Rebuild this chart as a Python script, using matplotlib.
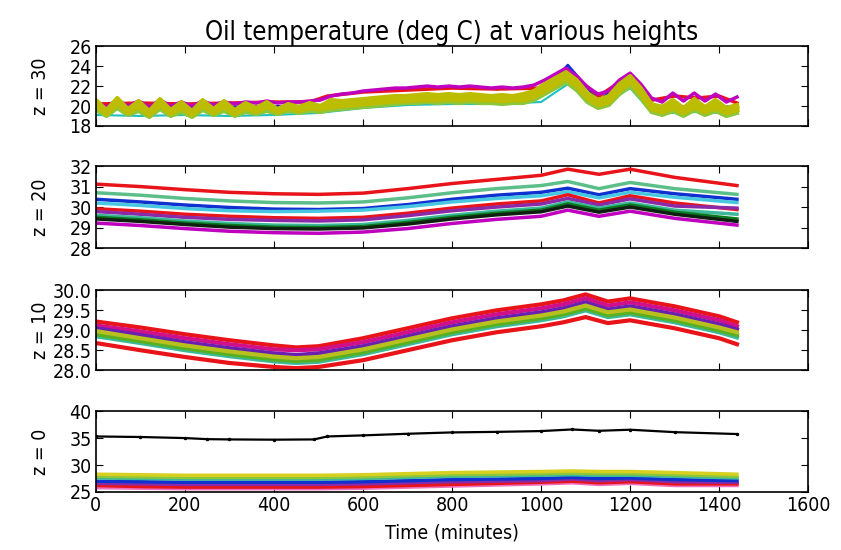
import numpy as np
import matplotlib
matplotlib.use("Agg")
import matplotlib.pyplot as plt
from matplotlib import font_manager as fm

# ---------------- data ----------------
# z = 30 (zig-zag readings every 24 minutes)
t30 = list(range(0, 1441, 24))
z30_yellow = [20.6, 19.6, 20.8, 19.7, 20.5, 19.5, 20.7, 19.6, 20.4, 19.5, 20.6, 19.7, 20.5, 19.6, 20.3, 19.8,
              20.4, 19.7, 20.2, 19.9, 20.3,
              20.0, 20.6, 20.5, 20.6, 20.7, 20.8, 20.9, 21.0, 21.0, 21.1, 21.2, 21.1, 21.2, 21.1, 21.2, 21.1,
              21.0, 21.1, 21.0, 21.2, 21.5, 22.2, 22.8, 23.4, 22.6, 21.3, 20.6, 21.0, 22.2, 23.0, 21.8, 20.2,
              19.9, 20.6, 19.8, 20.7, 19.9, 20.6, 19.8, 20.1]
z30_yellow3 = [20.3, 19.4, 20.5, 19.5, 20.2, 19.3, 20.4, 19.4, 20.1, 19.3, 20.3, 19.5, 20.2, 19.4, 20.0, 19.6,
               20.1, 19.5, 20.0, 19.7, 20.0,
               19.9, 20.3, 20.3, 20.4, 20.5, 20.6, 20.7, 20.8, 20.8, 20.9, 20.9, 20.9, 21.0, 20.9, 21.0, 20.9,
               20.8, 20.8, 20.8, 20.9, 21.2, 21.9, 22.5, 23.1, 22.3, 21.0, 20.3, 20.7, 21.9, 22.7, 21.5, 19.9,
               19.7, 20.2, 19.6, 20.3, 19.7, 20.2, 19.6, 19.9]
z30_yellow2 = [20.0, 19.2, 20.2, 19.3, 19.9, 19.1, 20.1, 19.2, 19.8, 19.1, 20.0, 19.3, 19.9, 19.2, 19.8, 19.4,
               19.9, 19.4, 19.8, 19.5, 19.8,
               19.7, 19.9, 20.0, 20.1, 20.2, 20.3, 20.4, 20.5, 20.5, 20.6, 20.6, 20.6, 20.7, 20.6, 20.7, 20.6,
               20.6, 20.5, 20.6, 20.6, 20.9, 21.5, 22.1, 22.8, 22.0, 20.8, 20.1, 20.4, 21.5, 22.4, 21.2, 19.7,
               19.4, 19.8, 19.3, 19.9, 19.4, 19.8, 19.3, 19.6]
z30_green = [19.6, 19.0, 19.8, 19.1, 19.5, 18.9, 19.7, 19.0, 19.4, 18.9, 19.6, 19.1, 19.5, 19.0, 19.4, 19.2,
             19.5, 19.2, 19.5, 19.3, 19.5,
             19.4, 19.6, 19.7, 19.8, 19.9, 20.0, 20.1, 20.2, 20.3, 20.3, 20.4, 20.3, 20.4, 20.3, 20.4, 20.3,
             20.3, 20.2, 20.3, 20.3, 20.6, 21.2, 21.8, 22.4, 21.6, 20.4, 19.8, 20.1, 21.2, 22.0, 20.8, 19.4,
             19.1, 19.5, 19.0, 19.6, 19.1, 19.5, 19.0, 19.3]
z30_magenta = [20.4, 19.9, 20.6, 20.0, 20.5, 19.9, 20.6, 20.0, 20.4, 20.0, 20.5, 20.1, 20.4, 20.2, 20.4, 20.3,
               20.5, 20.3, 20.4, 20.4, 20.5,
               20.6, 21.0, 21.2, 21.3, 21.5, 21.6, 21.7, 21.8, 21.8, 21.9, 22.0, 21.9, 22.0, 21.9, 22.0, 21.9,
               21.8, 21.9, 21.8, 21.9, 22.1, 22.6, 23.2, 23.8, 23.0, 21.9, 21.2, 21.5, 22.6, 23.3, 22.2, 20.8,
               20.4, 21.3, 20.5, 21.3, 20.5, 21.2, 20.4, 20.9]
t30_red = [0, 100, 200, 300, 400, 480, 520, 600, 700, 800, 900, 1000, 1060, 1130, 1200, 1250, 1300, 1350, 1400, 1440]
z30_red = [20.2, 20.3, 20.2, 20.3, 20.4, 20.4, 21.0, 21.4, 21.6, 21.8, 21.7, 21.8, 23.5, 21.0, 23.1, 20.6, 21.0,
           20.8, 21.0, 20.3]
t30_blue = [0, 500, 1000, 1060, 1130, 1200, 1250, 1440]
z30_blue = [19.8, 20.0, 21.0, 24.1, 20.5, 23.2, 20.0, 19.9]
t30_cyan = [0, 100, 200, 300, 400, 500, 600, 700, 800, 900, 1000, 1060, 1130, 1200, 1250, 1300, 1350, 1400, 1440]
z30_cyan = [19.1, 19.0, 19.1, 19.0, 19.1, 19.3, 19.8, 20.1, 20.2, 20.2, 20.4, 22.2, 19.8, 21.8, 19.3, 19.3, 19.4,
            19.3, 19.4]

# z = 20
t20 = [0, 100, 200, 300, 400, 500, 600, 700, 800, 900, 1000, 1060, 1130, 1200, 1300, 1440]
z20_red1 = [31.12, 31.0, 30.85, 30.72, 30.65, 30.62, 30.68, 30.9, 31.15, 31.35, 31.55, 31.85, 31.6, 31.85, 31.45, 31.05]
z20_green2 = [30.7, 30.58, 30.42, 30.3, 30.22, 30.2, 30.25, 30.45, 30.7, 30.9, 31.05, 31.25, 30.9, 31.2, 30.9, 30.62]
z20_blue = [30.38, 30.25, 30.1, 29.98, 29.9, 29.88, 29.93, 30.12, 30.38, 30.58, 30.72, 30.92, 30.6, 30.9, 30.65, 30.38]
z20_cyan = [30.2, 30.08, 29.93, 29.82, 29.78, 29.8, 29.85, 30.02, 30.25, 30.42, 30.55, 30.75, 30.45, 30.72, 30.48, 30.22]
z20_red2 = [29.92, 29.8, 29.65, 29.55, 29.48, 29.45, 29.5, 29.7, 29.95, 30.15, 30.3, 30.6, 30.2, 30.55, 30.2, 29.88]
z20_purple = [29.78, 29.65, 29.5, 29.4, 29.35, 29.32, 29.38, 29.58, 29.82, 30.0, 30.15, 30.42, 30.1, 30.4, 30.05, 29.95]
z20_teal = [29.6, 29.48, 29.32, 29.2, 29.12, 29.1, 29.15, 29.35, 29.6, 29.8, 29.95, 30.25, 29.95, 30.2, 29.85, 29.65]
z20_dkgreen = [29.5, 29.38, 29.22, 29.1, 29.02, 29.0, 29.05, 29.25, 29.5, 29.7, 29.85, 30.15, 29.85, 30.1, 29.75, 29.42]
z20_black = [29.42, 29.3, 29.15, 29.02, 28.95, 28.93, 28.98, 29.17, 29.42, 29.62, 29.77, 30.05, 29.75, 30.0, 29.65, 29.3]
z20_magenta = [29.22, 29.1, 28.95, 28.82, 28.75, 28.72, 28.78, 28.95, 29.2, 29.4, 29.55, 29.85, 29.55, 29.8, 29.45, 29.12]

# z = 10
t10 = [0, 100, 200, 300, 400, 450, 500, 600, 700, 800, 900, 1000, 1050, 1100, 1150, 1200, 1250, 1300, 1400, 1440]
z10_red_top = [29.22, 29.07, 28.9, 28.75, 28.62, 28.57, 28.6, 28.8, 29.05, 29.3, 29.5, 29.65, 29.75, 29.9, 29.72, 29.8, 29.7, 29.6, 29.35, 29.2]
z10_magenta = [29.12, 28.97, 28.8, 28.65, 28.52, 28.5, 28.52, 28.7, 28.95, 29.2, 29.4, 29.55, 29.65, 29.8, 29.62, 29.7, 29.6, 29.5, 29.25, 29.1]
z10_blue = [29.05, 28.88, 28.7, 28.55, 28.42, 28.38, 28.42, 28.6, 28.85, 29.1, 29.3, 29.45, 29.55, 29.7, 29.52, 29.6, 29.5, 29.4, 29.15, 29.02]
z10_yellow = [28.98, 28.8, 28.62, 28.47, 28.34, 28.3, 28.33, 28.52, 28.77, 29.02, 29.22, 29.37, 29.47, 29.62, 29.45, 29.52, 29.42, 29.32, 29.07, 28.95]
z10_green = [28.9, 28.73, 28.55, 28.4, 28.27, 28.23, 28.26, 28.45, 28.7, 28.95, 29.15, 29.3, 29.4, 29.55, 29.38, 29.45, 29.35, 29.25, 29.0, 28.88]
z10_teal = [28.85, 28.68, 28.5, 28.35, 28.22, 28.18, 28.21, 28.4, 28.65, 28.9, 29.1, 29.25, 29.35, 29.5, 29.33, 29.4, 29.3, 29.2, 28.95, 28.82]
z10_red_bot = [28.68, 28.5, 28.33, 28.18, 28.08, 28.05, 28.08, 28.25, 28.5, 28.75, 28.95, 29.1, 29.2, 29.33, 29.18, 29.25, 29.15, 29.05, 28.8, 28.65]

# z = 0
t0_black = [0, 100, 200, 250, 300, 400, 490, 520, 600, 700, 800, 900, 1000, 1070, 1130, 1200, 1300, 1440]
z0_black = [35.3, 35.2, 35.0, 34.8, 34.75, 34.7, 34.75, 35.3, 35.5, 35.8, 36.05, 36.15, 36.3, 36.6, 36.35, 36.55, 36.1, 35.75]
t0 = [0, 100, 200, 300, 400, 500, 600, 700, 800, 900, 1000, 1070, 1130, 1200, 1300, 1440]
z0_yellow = [28.3, 28.2, 28.1, 28.1, 28.1, 28.1, 28.2, 28.4, 28.6, 28.7, 28.8, 28.9, 28.8, 28.8, 28.6, 28.3]
z0_green = [27.9, 27.8, 27.7, 27.7, 27.7, 27.7, 27.8, 28.0, 28.2, 28.3, 28.4, 28.5, 28.4, 28.4, 28.2, 27.9]
z0_teal = [27.6, 27.5, 27.4, 27.4, 27.4, 27.4, 27.5, 27.7, 27.9, 28.0, 28.1, 28.2, 28.1, 28.1, 27.9, 27.6]
z0_blue = [27.0, 26.9, 26.8, 26.8, 26.8, 26.8, 26.9, 27.1, 27.3, 27.4, 27.5, 27.7, 27.5, 27.6, 27.3, 27.1]
z0_purple = [26.6, 26.5, 26.4, 26.4, 26.4, 26.4, 26.5, 26.7, 26.9, 27.0, 27.1, 27.4, 27.1, 27.3, 26.9, 26.8]
z0_red = [26.2, 26.0, 25.9, 25.9, 25.9, 25.9, 26.0, 26.2, 26.4, 26.6, 26.8, 27.0, 26.7, 26.9, 26.5, 26.5]
z0_pink = [25.8, 25.7, 25.6, 25.6, 25.6, 25.6, 25.7, 25.9, 26.1, 26.3, 26.5, 26.7, 26.4, 26.6, 26.2, 26.2]

panel_labels = ["z = 30", "z = 20", "z = 10", "z = 0"]
y_ticks = [[18, 20, 22, 24, 26], [28, 29, 30, 31, 32], [28.0, 28.5, 29.0, 29.5, 30.0], [25, 30, 35, 40]]
y_ticklabels = [["18", "20", "22", "24", "26"], ["28", "29", "30", "31", "32"],
                ["28.0", "28.5", "29.0", "29.5", "30.0"], ["25", "30", "35", "40"]]
x_ticks = [0, 200, 400, 600, 800, 1000, 1200, 1400, 1600]

# colours
C_R = "#e8141a"
C_M = "#bf00bf"
C_B = "#1030d0"
C_C = "#20c0c0"
C_Y = "#bcbd00"
C_LG = "#8cc63a"
C_G = "#0b7a1e"
C_P = "#8a2aa8"
C_T = "#3cb89a"

plt.rcParams['font.family'] = ['DejaVu Sans']
fp_cond = fm.FontProperties(family='DejaVu Sans', stretch='condensed')
cond_file = fm.findfont(fp_cond)
has_cond = 'Condensed' in cond_file
TS = 14 if has_cond else 12
TITLE = 18.5 if has_cond else 16
STRETCH = 'condensed' if has_cond else 'normal'

fig = plt.figure(figsize=(8.41, 5.5), dpi=100)
L, W = 0.114, 0.847
rects = [(L, 0.771, W, 0.145), (L, 0.549, W, 0.149), (L, 0.327, W, 0.145), (L, 0.1055, W, 0.147)]
axes = [fig.add_axes(r) for r in rects]

ax = axes[0]
ax.plot(t30_blue, z30_blue, color=C_B, lw=2)
ax.plot(t30_cyan, z30_cyan, color=C_C, lw=1.5)
ax.plot(t30_red, z30_red, color=C_R, lw=2.5)
ax.plot(t30, z30_magenta, color=C_M, lw=2.5)
ax.plot(t30, z30_green, color=C_LG, lw=3)
ax.plot(t30, z30_yellow2, color=C_Y, lw=3.5)
ax.plot(t30, z30_yellow3, color=C_Y, lw=3.5)
ax.plot(t30, z30_yellow, color=C_Y, lw=3)

ax = axes[1]
for vals, col in [(z20_red1, C_R), (z20_green2, "#5cbf8a"), (z20_blue, C_B), (z20_cyan, "#48c8e0"),
                  (z20_red2, C_R), (z20_purple, C_P), (z20_teal, C_T), (z20_dkgreen, C_G),
                  (z20_black, "#102010"), (z20_magenta, C_M)]:
    ax.plot(t20, vals, color=col, lw=2.5)

ax = axes[2]
for vals, col in [(z10_red_top, C_R), (z10_red_bot, C_R), (z10_magenta, "#d0108a"), (z10_blue, "#6a1fb0"),
                  (z10_teal, C_T), (z10_green, "#58b020"), (z10_yellow, "#b8c020")]:
    ax.plot(t10, vals, color=col, lw=3)

ax = axes[3]
ax.plot(t0_black, z0_black, color="k", lw=1.6, marker='.', markersize=3)
for vals, col in [(z0_pink, "#f070c0"), (z0_red, C_R), (z0_purple, C_P), (z0_blue, C_B),
                  (z0_teal, C_T), (z0_green, C_LG), (z0_yellow, "#d8d020")]:
    ax.plot(t0, vals, color=col, lw=2.5)

for i, ax in enumerate(axes):
    ax.set_xlim(0, 1600)
    ax.set_ylim(y_ticks[i][0], y_ticks[i][-1])
    ax.set_yticks(y_ticks[i])
    ax.set_yticklabels(y_ticklabels[i], fontsize=TS, fontstretch=STRETCH)
    ax.set_xticks(x_ticks)
    ax.set_ylabel(panel_labels[i], fontsize=TS, fontstretch=STRETCH)
    ax.tick_params(direction='in', top=True, right=True, length=5, width=0.8, pad=3)
    for s in ax.spines.values():
        s.set_linewidth(1.2)
    if i < 3:
        ax.set_xticklabels([])
    else:
        ax.set_xticklabels([str(v) for v in x_ticks], fontsize=TS, fontstretch=STRETCH)
        ax.set_xlabel("Time (minutes)", fontsize=TS, fontstretch=STRETCH, labelpad=6)
    ax.yaxis.set_label_coords(-0.065, 0.5)

axes[0].set_title("Oil temperature (deg C) at various heights", fontsize=TITLE, fontstretch=STRETCH, pad=3)

fig.savefig("out.png", dpi=100)
